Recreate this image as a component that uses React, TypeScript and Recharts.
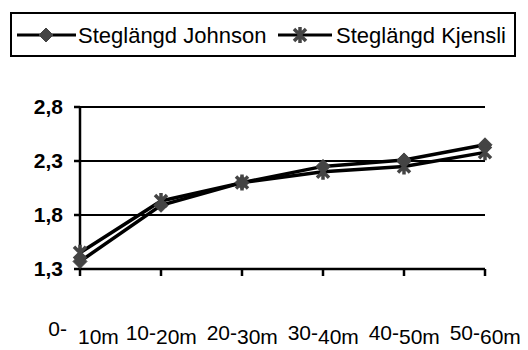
import { LineChart, Line, XAxis, YAxis, CartesianGrid, Legend } from "recharts";

// Step length per 10 m segment, two methods
const categories = ["0-10m", "10-20m", "20-30m", "30-40m", "40-50m", "50-60m"];
const johnson = [1.37, 1.89, 2.1, 2.25, 2.31, 2.45];
const kjensli = [1.45, 1.93, 2.1, 2.2, 2.25, 2.38];
const yTicks = [1.3, 1.8, 2.3, 2.8];

const FONT = "'Liberation Sans', Arial, sans-serif";
const MARKER = "#444444";

const data = categories.map((name, i) => ({ name, johnson: johnson[i], kjensli: kjensli[i] }));

const Diamond = ({ cx, cy }: { cx: number; cy: number }) => (
  <polygon
    points={`${cx - 7},${cy} ${cx},${cy - 7} ${cx + 7},${cy} ${cx},${cy + 7}`}
    fill={MARKER}
    stroke={MARKER}
  />
);

const Star = ({ cx, cy }: { cx: number; cy: number }) => (
  <path
    d={`M${cx - 6},${cy - 6}L${cx + 6},${cy + 6}M${cx + 6},${cy - 6}L${cx - 6},${cy + 6}M${cx},${cy - 8}L${cx},${cy + 8}`}
    stroke={MARKER}
    strokeWidth={3.5}
    fill="none"
  />
);

// the category label is drawn in two pieces, the first one sitting a bit higher
const XTick = (props: any) => {
  const { x, payload, index } = props;
  const label: string = payload.value;
  const cut = label.indexOf("-") + 1;
  const first = index === 0;
  const base = 344;
  return (
    <g fontFamily={FONT} fontSize={21} fill="#000">
      <text x={first ? x - 13 : x - 5} y={base - (first ? 8 : 4)} textAnchor="end">
        {label.slice(0, cut)}
      </text>
      <text x={first ? x - 2 : x - 5} y={base} textAnchor="start">
        {label.slice(cut)}
      </text>
    </g>
  );
};

const LegendBox = () => (
  <div
    style={{
      width: 502,
      height: 41,
      border: "2px solid #000",
      boxSizing: "content-box",
      fontFamily: FONT,
      fontSize: 22,
      position: "relative",
    }}
  >
    <svg width={502} height={41} style={{ position: "absolute", left: 0, top: 0 }}>
      <line x1={5} x2={64} y1={21} y2={21} stroke="#000" strokeWidth={3} />
      <Diamond cx={34} cy={21} />
      <text x={66} y={29} fontSize={22} fontFamily={FONT}>Steglängd Johnson</text>
      <line x1={266} x2={320} y1={21} y2={21} stroke="#000" strokeWidth={3} />
      <Star cx={288} cy={21} />
      <text x={324} y={29} fontSize={22} fontFamily={FONT}>Steglängd Kjensli</text>
    </svg>
  </div>
);

export default function App() {
  return (
    <div style={{ position: "absolute", left: 0, top: 0, background: "#fff" }}>
      <LineChart width={528} height={350} data={data} margin={{ top: 107, right: 43, bottom: 0, left: 0 }}>
        <CartesianGrid vertical={false} stroke="#000" strokeWidth={2} />
        <XAxis
          dataKey="name"
          height={81}
          padding={{ left: 0, right: 0 }}
          stroke="#000"
          strokeWidth={2.5}
          tickSize={7}
          tick={<XTick />}
          interval={0}
        />
        <YAxis
          width={80}
          domain={[1.3, 2.8]}
          ticks={yTicks}
          stroke="#000"
          strokeWidth={2.5}
          tickSize={6}
          tickMargin={11}
          tickFormatter={(v: number) => v.toFixed(1).replace(".", ",")}
          tick={{ fill: "#000", fontSize: 21, fontWeight: "bold", fontFamily: FONT }}
        />
        <Legend
          verticalAlign="middle"
          align="center"
          wrapperStyle={{ top: 12, left: 10, width: 506, height: 45 }}
          content={<LegendBox />}
        />
        <Line
          dataKey="johnson"
          stroke="#000"
          strokeWidth={3.5}
          isAnimationActive={false}
          dot={(p: any) => <Diamond key={`j${p.index}`} cx={p.cx} cy={p.cy} />}
        />
        <Line
          dataKey="kjensli"
          stroke="#000"
          strokeWidth={3.5}
          isAnimationActive={false}
          dot={(p: any) => <Star key={`k${p.index}`} cx={p.cx} cy={p.cy} />}
        />
      </LineChart>
    </div>
  );
}
